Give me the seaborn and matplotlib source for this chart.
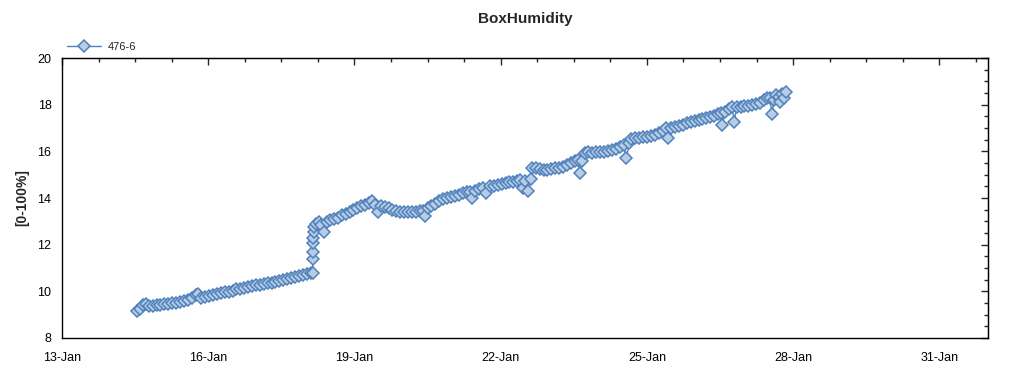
import matplotlib
matplotlib.use("Agg")
import matplotlib.pyplot as plt
import matplotlib.dates as mdates
import matplotlib.ticker as mticker
import seaborn as sns
import pandas as pd
import numpy as np

# day of January (fractional) and humidity reading
days = [14.54, 14.60, 14.66, 14.72, 14.78, 14.86, 14.94, 15.02, 15.10, 15.18, 15.26, 15.34,
        15.42, 15.50, 15.58, 15.66, 15.74, 15.80, 15.86, 15.94, 16.02, 16.10, 16.18, 16.26,
        16.34, 16.42, 16.50, 16.58, 16.66, 16.74, 16.82, 16.90, 16.98, 17.06, 17.14, 17.22,
        17.30, 17.38, 17.46, 17.54, 17.62, 17.70, 17.78, 17.86, 17.94, 18.02, 18.10, 18.14,
        18.145, 18.15, 18.155, 18.16, 18.17, 18.18, 18.22, 18.27, 18.32, 18.38, 18.44, 18.50,
        18.58, 18.66, 18.74, 18.82, 18.90, 18.98, 19.06, 19.14, 19.22, 19.30, 19.36, 19.42,
        19.48, 19.54, 19.62, 19.70, 19.78, 19.86, 19.94, 20.02, 20.10, 20.18, 20.26, 20.34,
        20.40, 20.44, 20.50, 20.58, 20.66, 20.74, 20.82, 20.90, 20.98, 21.06, 21.14, 21.22,
        21.30, 21.38, 21.42, 21.48, 21.56, 21.63, 21.70, 21.78, 21.86, 21.94, 22.02, 22.10,
        22.18, 22.26, 22.34, 22.40, 22.45, 22.50, 22.56, 22.62, 22.65, 22.72, 22.80, 22.88,
        22.96, 23.04, 23.12, 23.20, 23.28, 23.36, 23.44, 23.52, 23.58, 23.62, 23.66, 23.72,
        23.80, 23.88, 23.96, 24.04, 24.12, 24.20, 24.28, 24.36, 24.44, 24.52, 24.58, 24.64,
        24.68, 24.76, 24.84, 24.92, 25.00, 25.08, 25.16, 25.24, 25.32, 25.40, 25.44, 25.50,
        25.58, 25.66, 25.74, 25.82, 25.90, 25.98, 26.06, 26.14, 26.22, 26.30, 26.38, 26.46,
        26.52, 26.55, 26.60, 26.68, 26.75, 26.79, 26.84, 26.92, 27.00, 27.08, 27.16, 27.24,
        27.32, 27.40, 27.46, 27.52, 27.57, 27.60, 27.65, 27.70, 27.74, 27.78, 27.82, 27.86]
humidity = [9.15, 9.25, 9.40, 9.45, 9.35, 9.38, 9.40, 9.42, 9.44, 9.46, 9.50, 9.52,
            9.56, 9.60, 9.64, 9.72, 9.85, 9.90, 9.72, 9.76, 9.80, 9.85, 9.88, 9.92,
            9.95, 9.98, 10.02, 10.08, 10.12, 10.16, 10.20, 10.22, 10.25, 10.28, 10.30, 10.34,
            10.37, 10.40, 10.45, 10.50, 10.54, 10.58, 10.62, 10.66, 10.70, 10.74, 10.78, 10.80,
            11.38, 11.70, 12.07, 12.30, 12.55, 12.76, 12.90, 12.95, 12.85, 12.55, 12.95, 13.05,
            13.08, 13.15, 13.25, 13.30, 13.40, 13.48, 13.58, 13.65, 13.72, 13.80, 13.85, 13.70,
            13.40, 13.65, 13.60, 13.55, 13.50, 13.45, 13.42, 13.40, 13.40, 13.40, 13.42, 13.44,
            13.45, 13.22, 13.55, 13.65, 13.75, 13.85, 13.95, 14.02, 14.06, 14.10, 14.15, 14.20,
            14.24, 14.27, 14.02, 14.30, 14.38, 14.45, 14.22, 14.50, 14.53, 14.56, 14.60, 14.64,
            14.68, 14.70, 14.74, 14.77, 14.45, 14.75, 14.30, 14.80, 15.30, 15.28, 15.25, 15.22,
            15.22, 15.24, 15.27, 15.30, 15.35, 15.42, 15.50, 15.58, 15.63, 15.08, 15.60, 15.95,
            15.96, 15.95, 15.96, 15.97, 15.99, 16.02, 16.05, 16.10, 16.18, 16.26, 15.72, 16.35,
            16.55, 16.57, 16.58, 16.60, 16.62, 16.66, 16.72, 16.78, 16.88, 16.98, 16.58, 17.02,
            17.06, 17.10, 17.15, 17.20, 17.25, 17.30, 17.34, 17.38, 17.42, 17.47, 17.52, 17.60,
            17.65, 17.13, 17.70, 17.82, 17.90, 17.26, 17.88, 17.90, 17.93, 17.96, 17.99, 18.03,
            18.08, 18.18, 18.28, 18.30, 17.58, 18.20, 18.42, 18.35, 18.10, 18.45, 18.30, 18.55]

series_name = "476-6"
tick_labels = ["13-Jan", "16-Jan", "19-Jan", "22-Jan", "25-Jan", "28-Jan", "31-Jan"]

start = pd.Timestamp("2015-01-01")
df = pd.DataFrame({
    "time": start + pd.to_timedelta(np.array(days) - 1, unit="D"),
    "value": humidity,
})

sns.set_style("white")
plt.rcParams["font.family"] = ["Liberation Sans", "DejaVu Sans"]
plt.rcParams["font.size"] = 9

fig = plt.figure(figsize=(10.24, 3.75), dpi=100)
ax = fig.add_axes([0.0605, 0.0987, 0.9045, 0.7466])

line_col = "#4f81bd"
sns.lineplot(data=df, x="time", y="value", ax=ax, sort=False, estimator=None,
             color=line_col, linewidth=1, marker="D", markersize=6,
             markerfacecolor="#b8cce4", markeredgecolor=line_col, markeredgewidth=1.1,
             label=series_name, legend=False)

x0 = pd.Timestamp("2015-01-13")
x1 = pd.Timestamp("2015-02-01")
ax.set_xlim(x0, x1)
ax.set_ylim(8, 20)

major = [mdates.date2num(x0 + pd.Timedelta(days=3 * i)) for i in range(len(tick_labels))]
minor = np.arange(mdates.date2num(x0), mdates.date2num(x1) + 0.01, 0.75)
ax.xaxis.set_major_locator(mticker.FixedLocator(major))
ax.xaxis.set_major_formatter(mticker.FixedFormatter(tick_labels))
ax.xaxis.set_minor_locator(mticker.FixedLocator(minor))
ax.yaxis.set_major_locator(mticker.MultipleLocator(2))
ax.yaxis.set_minor_locator(mticker.MultipleLocator(0.5))

for s in ax.spines.values():
    s.set_color("black")
    s.set_linewidth(1)

ax.tick_params(axis="both", which="major", direction="inout", length=8, width=1,
               labelsize=9, colors="black")
ax.tick_params(axis="both", which="minor", direction="inout", length=5, width=1)
ax.tick_params(axis="x", which="major", pad=6)

# top and right axes carry inward ticks only
top = ax.secondary_xaxis("top")
top.xaxis.set_major_locator(mticker.FixedLocator(major))
top.xaxis.set_minor_locator(mticker.FixedLocator(minor))
top.xaxis.set_major_formatter(mticker.NullFormatter())
top.tick_params(which="major", direction="in", length=5, width=1)
top.tick_params(which="minor", direction="in", length=3, width=1)

right = ax.secondary_yaxis("right")
right.yaxis.set_major_locator(mticker.MultipleLocator(2))
right.yaxis.set_minor_locator(mticker.MultipleLocator(0.5))
right.yaxis.set_major_formatter(mticker.NullFormatter())
right.tick_params(which="major", direction="in", length=5, width=1)
right.tick_params(which="minor", direction="in", length=3, width=1)

ax.set_xlabel("")
ax.set_ylabel("[0-100%]", fontsize=10, fontweight="bold", labelpad=6)
ax.set_title("BoxHumidity", fontsize=11, fontweight="bold", pad=25)

fig.legend(loc="upper left", bbox_to_anchor=(0.056, 0.915), frameon=False,
           fontsize=8, handlelength=3, handletextpad=0.6)

fig.savefig("out.png", dpi=100, facecolor="white")
